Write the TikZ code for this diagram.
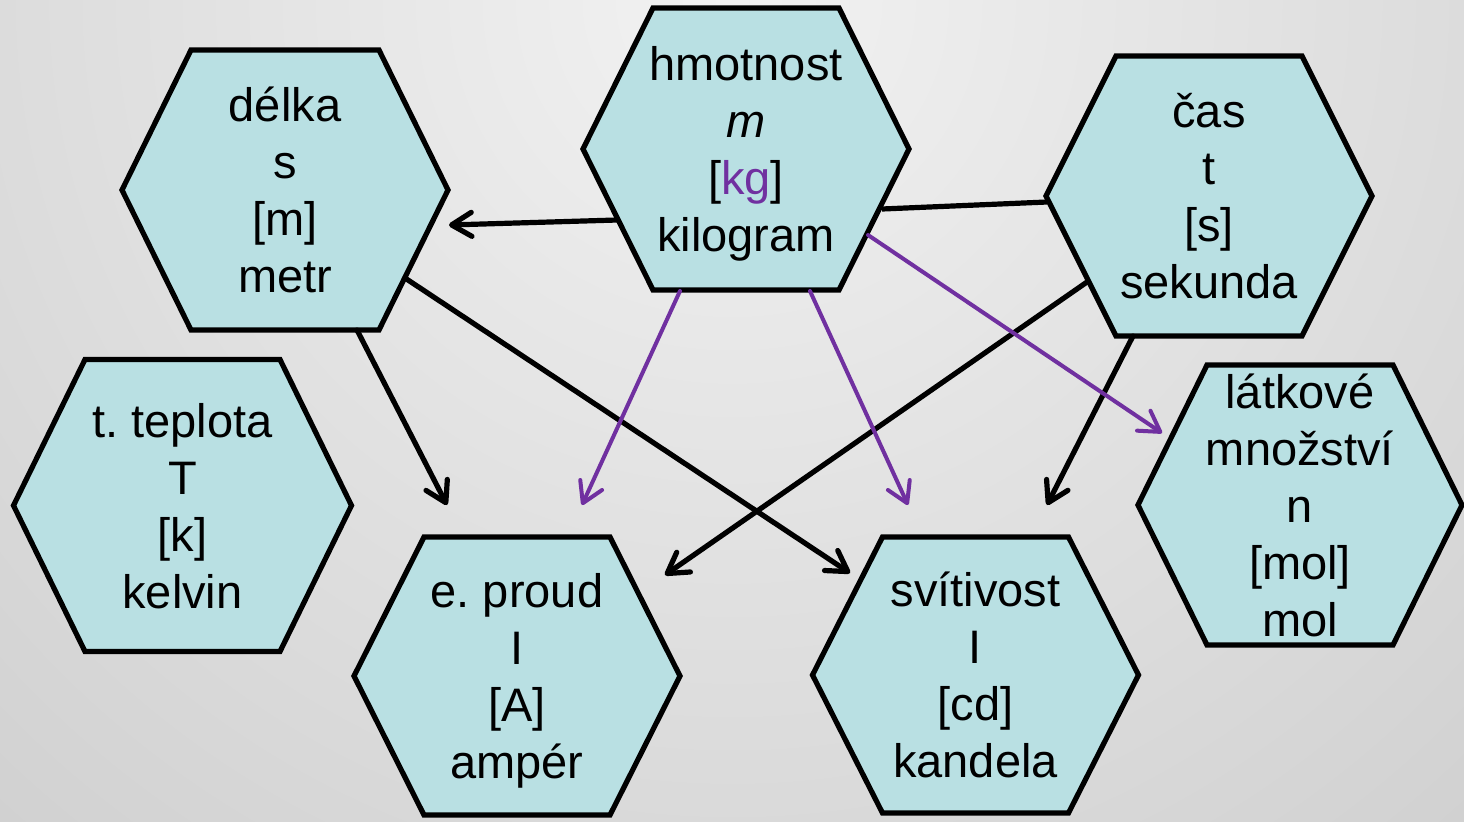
\documentclass[tikz,border=0pt]{standalone}
\usepackage{fontspec}
\setmainfont{Liberation Sans}
\usetikzlibrary{arrows.meta,calc}
\frenchspacing
\definecolor{hexfill}{RGB}{185,224,227}
\definecolor{arrpurple}{RGB}{112,48,160}
\definecolor{bgin}{RGB}{242,242,242}
\definecolor{bgout}{RGB}{176,176,176}
\newcommand\hexstrut{\rule[-5.7pt]{0pt}{28.5pt}}
\tikzset{
  hexline/.style={draw=black, fill=hexfill, line width=2.6pt, line join=miter},
  hextext/.style={inner sep=0pt, align=center, font=\fontsize{23.5pt}{28.5pt}\selectfont},
  blkarrow/.style={line width=2.6pt, line cap=round, -{Straight Barb[length=10pt,width=12pt,round]}},
  blkline/.style={line width=2.6pt},
  purarrow/.style={draw=arrpurple, line width=2pt, line cap=round, -{Straight Barb[length=10pt,width=12pt,round]}},
}
\newcommand\hexnode[7]{%
  \filldraw[hexline] (#2,#3) ++({-#4},0) -- ++({#4-#5},{-#6}) -- ++({2*#5},0)
    -- ++({#4-#5},{#6}) -- ++({#5-#4},{#6}) -- ++({-2*#5},0) -- cycle;
  \node[hextext] (#1) at (#2,#3) {#7};}
\begin{document}
\begin{tikzpicture}[x=0.5pt,y=-0.5pt]
\useasboundingbox (0,0) rectangle (1464,821);
\begin{scope}
  \clip (0,0) rectangle (1464,821);
  \shade[inner color=bgin, outer color=bgout] (732,0) circle (1100pt);
\end{scope}

\hexnode{dl}{285}{190}{163}{94}{140}{\hexstrut délka\\\hexstrut s\\\hexstrut [m]\\\hexstrut metr}
\hexnode{hm}{746}{149}{163}{93}{141}{\hexstrut hmotnost\\\hexstrut \textit{m}\\\hexstrut [\textcolor{arrpurple}{kg}]\\\hexstrut kilogram}
\hexnode{ca}{1209}{196}{163}{93}{140}{\hexstrut čas\\\hexstrut t\\\hexstrut [s]\\\hexstrut sekunda}
\hexnode{tp}{182.5}{505.5}{169}{97.5}{146}{\hexstrut t. teplota\\\hexstrut T\\\hexstrut [k]\\\hexstrut kelvin}
\hexnode{ep}{517}{676}{163}{93}{139}{\hexstrut e. proud\\\hexstrut I\\\hexstrut [A]\\\hexstrut ampér}
\hexnode{sv}{975.5}{675}{163}{93}{138}{\hexstrut svítivost\\\hexstrut I\\\hexstrut [cd]\\\hexstrut kandela}
\hexnode{la}{1300}{505}{162}{93}{140}{\hexstrut látkové\\\hexstrut množství\\\hexstrut n\\\hexstrut [mol]\\\hexstrut mol}

\draw[blkarrow] ($(hm.center)+(-129,71)$) -- ($(dl.center)+(164,35)$);
\draw[blkline] ($(hm.center)+(136,60)$) -- ($(ca.center)+(-162,6)$);
\draw[blkarrow] ($(dl.center)+(120,88)$) -- ($(sv.center)+(-125.5,-102)$);
\draw[blkarrow] ($(dl.center)+(72,140)$) -- ($(ep.center)+(-70,-171)$);
\draw[blkarrow] ($(ca.center)+(-122,86)$) -- ($(ep.center)+(148,-101)$);
\draw[blkarrow] ($(ca.center)+(-76,140)$) -- ($(sv.center)+(71.5,-170)$);
\draw[purarrow] ($(hm.center)+(-66,142)$) -- ($(ep.center)+(65,-171)$);
\draw[purarrow] ($(hm.center)+(64,142)$) -- ($(sv.center)+(-67.5,-170)$);
\draw[purarrow] ($(hm.center)+(122,86)$) -- ($(la.center)+(-138,-72)$);
\end{tikzpicture}
\end{document}
